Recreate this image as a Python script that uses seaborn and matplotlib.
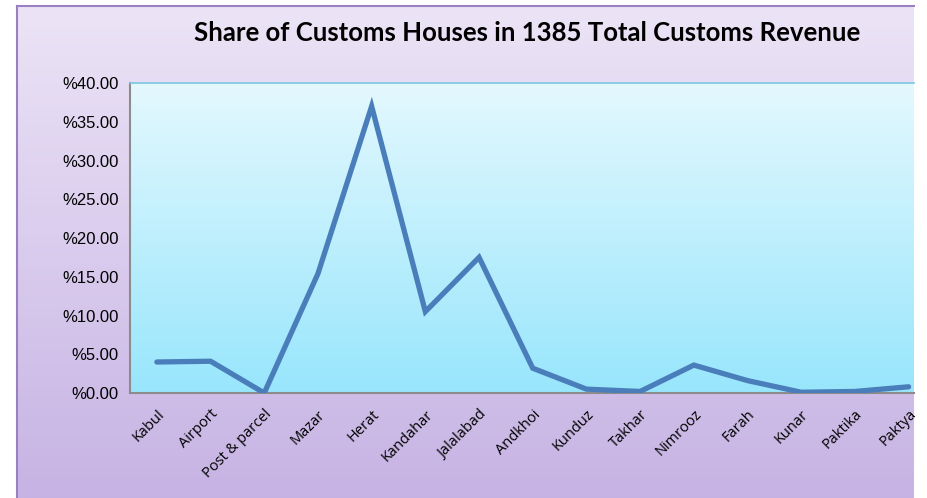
import numpy as np
import pandas as pd
import matplotlib.pyplot as plt
import seaborn as sns
from matplotlib.ticker import FuncFormatter, FixedLocator

houses = ["Kabul", "Airport", "Post & parcel", "Mazar", "Herat", "Kandahar",
          "Jalalabad", "Andkhoi", "Kunduz", "Takhar", "Nimrooz", "Farah",
          "Kunar", "Paktika", "Paktya"]
share = [4.0, 4.1, 0.0, 15.4, 37.0, 10.5, 17.5, 3.2, 0.5, 0.2, 3.6, 1.6, 0.1, 0.2, 0.8]
y_ticks = [0, 5, 10, 15, 20, 25, 30, 35, 40]

df = pd.DataFrame({"house": houses, "share": share, "pos": range(len(houses))})

sns.set_theme(style="white")

fig = plt.figure(figsize=(9.28, 4.98), dpi=100)
fig.patch.set_facecolor("white")

# chart-area background (lavender gradient)
bg = fig.add_axes([17 / 928, 0, (914 - 17) / 928, 1 - 6 / 498], zorder=0)
grad = np.linspace(0, 1, 256).reshape(-1, 1)
top_c = np.array([0.925, 0.894, 0.965])
bot_c = np.array([0.780, 0.702, 0.894])
bg.imshow(top_c + grad[..., None] * (bot_c - top_c), aspect="auto",
          extent=[0, 1, 0, 1], origin="upper")
bg.set_xticks([])
bg.set_yticks([])
for side in ["right", "bottom"]:
    bg.spines[side].set_visible(False)
for side in ["top", "left"]:
    bg.spines[side].set_color("#9a80c0")
    bg.spines[side].set_linewidth(1.5)

ax = fig.add_axes([130 / 928, 1 - 393 / 498, (914 - 130) / 928, (393 - 83) / 498], zorder=1)
# plot area gradient (light cyan)
p_top = np.array([0.894, 0.973, 0.996])
p_bot = np.array([0.596, 0.902, 0.988])
ax.imshow(p_top + grad[..., None] * (p_bot - p_top), aspect="auto",
          extent=[-0.5, 14.1, 0, 40], origin="upper", zorder=0)

sns.lineplot(data=df, x="pos", y="share", ax=ax, color="#4a7ebb",
             linewidth=3.8, solid_capstyle="round", solid_joinstyle="miter", zorder=3)

ax.set_xlim(-0.5, 14.1)
ax.set_ylim(0, 40)
ax.set_xlabel("")
ax.set_ylabel("")

ax.set_yticks(y_ticks)
ax.yaxis.set_major_formatter(FuncFormatter(lambda v, p: f"%{v:.2f}"))
ax.set_xticks(range(len(houses)))
ax.set_xticklabels(houses, rotation=45, ha="right", rotation_mode="anchor",
                   fontsize=10.5, family="Open Sans", color="black")
ax.xaxis.set_minor_locator(FixedLocator(np.arange(-0.5, 14.6, 1.0)))
ax.tick_params(axis="x", which="major", length=0, pad=10)
ax.tick_params(axis="x", which="minor", length=4, width=1, color="#8c8c8c", direction="out")
ax.tick_params(axis="y", length=4, width=1, color="#8c8c8c", direction="out",
               labelsize=12, pad=4, labelcolor="black")
for lab in ax.get_yticklabels():
    lab.set_family("Liberation Sans")

ax.spines["right"].set_visible(False)
ax.spines["top"].set_color("#7cc6e0")
ax.spines["top"].set_linewidth(1.2)
for side in ["left", "bottom"]:
    ax.spines[side].set_color("#8c8c8c")
    ax.spines[side].set_linewidth(1.5)

fig.text(527 / 928, 1 - 33 / 498, "Share of Customs Houses in 1385 Total Customs Revenue",
         ha="center", va="center", fontsize=18.5, fontweight="bold", family="Lato",
         color="black", zorder=5)

fig.savefig("out.png", dpi=100)
